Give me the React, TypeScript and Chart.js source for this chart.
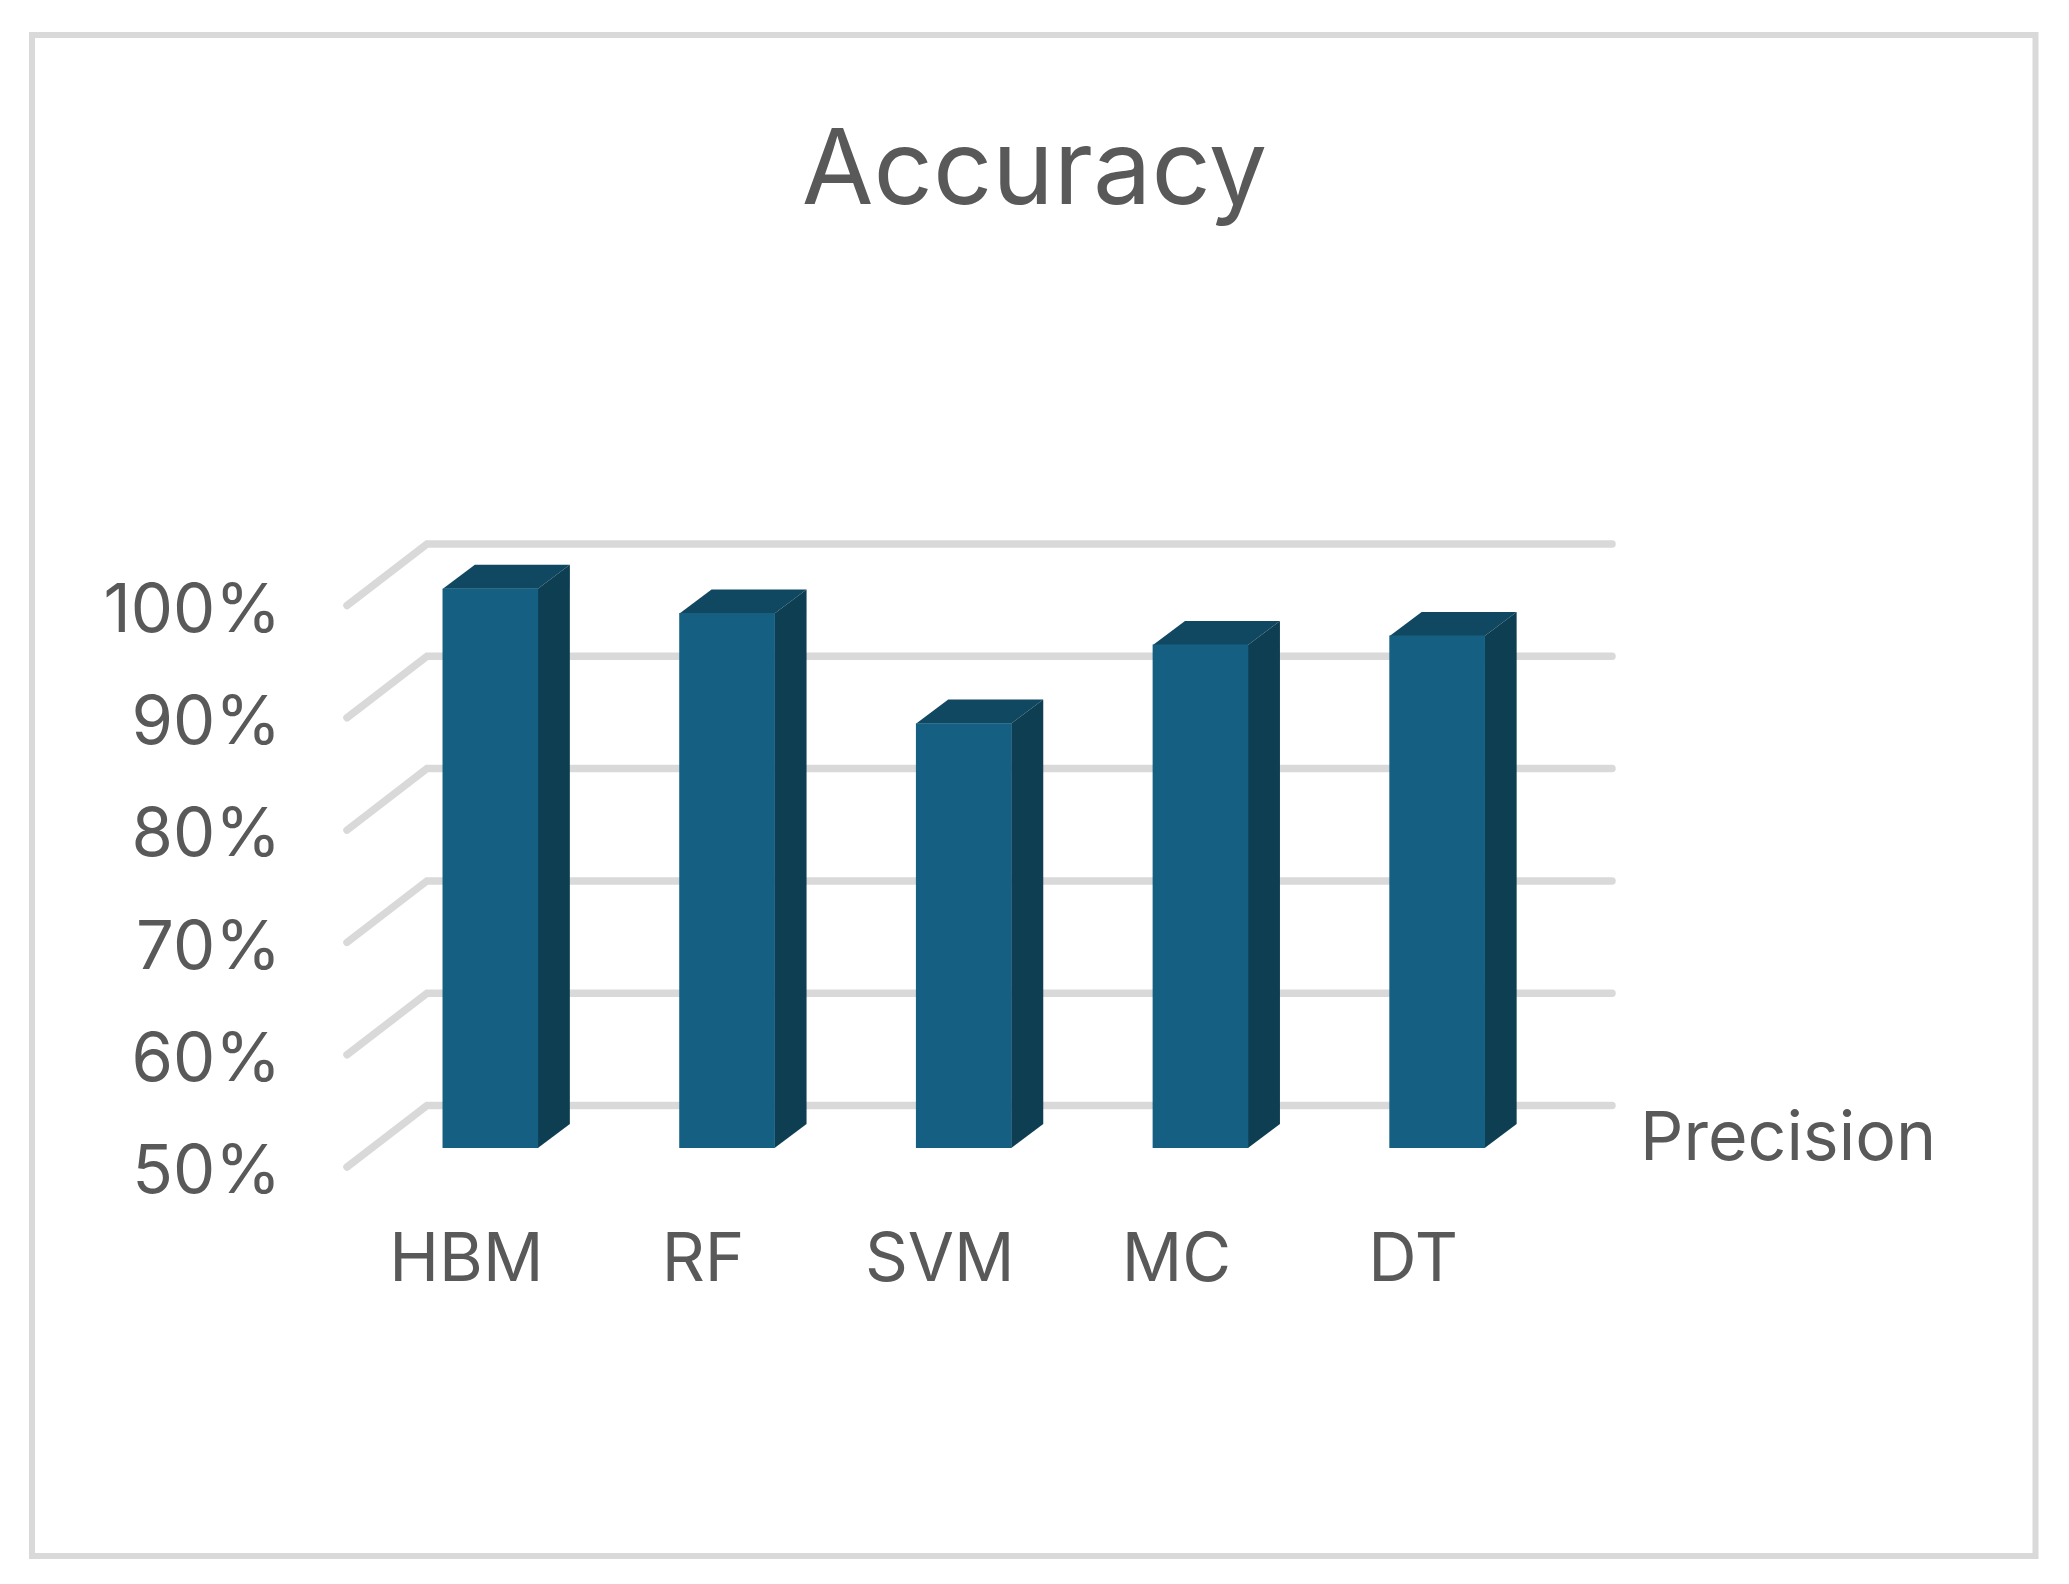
import React, { useEffect, useRef } from "react";
import { Chart, registerables } from "chart.js";

Chart.register(...registerables);

const categories = ["HBM", "RF", "SVM", "MC", "DT"];
const precision = [99.8, 97.6, 87.8, 94.8, 95.6];
const seriesName = "Precision";
const chartTitle = "Accuracy";

const FONT = "Inter, 'Noto Sans', sans-serif";
const TEXT = "#595959";
const GRID = "#d9d9d9";
const FRONT = "#156082";
const TOP = "#104862";
const SIDE = "#0d3e52";

const DEPTH_X = 32;
const DEPTH_Y = 24;

const decor = {
  id: "decor3d",
  beforeDraw(chart: any) {
    const { ctx } = chart;
    ctx.save();
    ctx.fillStyle = "#ffffff";
    ctx.fillRect(0, 0, chart.width, chart.height);
    ctx.strokeStyle = GRID;
    ctx.lineWidth = 6;
    ctx.strokeRect(32, 35, 2003.5, 1521);
    ctx.restore();
  },
  beforeDatasetsDraw(chart: any) {
    const { ctx } = chart;
    const y = chart.scales.y;
    ctx.save();
    ctx.strokeStyle = GRID;
    ctx.lineWidth = 7.5;
    ctx.lineCap = "round";
    ctx.lineJoin = "miter";
    y.ticks.forEach((t: any) => {
      const p = y.getPixelForValue(t.value);
      ctx.beginPath();
      ctx.moveTo(347, p + 19);
      ctx.lineTo(427, p - 42.5);
      ctx.lineTo(1612, p - 42.5);
      ctx.stroke();
    });
    const meta = chart.getDatasetMeta(0);
    meta.data.forEach((bar: any) => {
      const w = bar.width / 2;
      const l = bar.x - w;
      const r = bar.x + w;
      const t = bar.y;
      const b = bar.base;
      ctx.fillStyle = TOP;
      ctx.beginPath();
      ctx.moveTo(l, t);
      ctx.lineTo(l + DEPTH_X, t - DEPTH_Y);
      ctx.lineTo(r + DEPTH_X, t - DEPTH_Y);
      ctx.lineTo(r, t);
      ctx.closePath();
      ctx.fill();
      ctx.fillStyle = SIDE;
      ctx.beginPath();
      ctx.moveTo(r, t);
      ctx.lineTo(r + DEPTH_X, t - DEPTH_Y);
      ctx.lineTo(r + DEPTH_X, b - DEPTH_Y);
      ctx.lineTo(r, b);
      ctx.closePath();
      ctx.fill();
    });
    ctx.restore();
  },
  afterDraw(chart: any) {
    const { ctx } = chart;
    ctx.save();
    ctx.fillStyle = TEXT;
    ctx.font = `68px ${FONT}`;
    ctx.textAlign = "left";
    ctx.textBaseline = "alphabetic";
    ctx.fillText(chart.data.datasets[0].label, 1640, 1160);
    ctx.restore();
  },
};

export default function App() {
  const ref = useRef<HTMLCanvasElement>(null);
  useEffect(() => {
    const chart = new Chart(ref.current as HTMLCanvasElement, {
      type: "bar",
      data: {
        labels: categories,
        datasets: [
          {
            label: seriesName,
            data: precision,
            backgroundColor: FRONT,
            barThickness: 95,
            base: 50,
          } as any,
        ],
      },
      plugins: [decor],
      options: {
        responsive: false,
        animation: false,
        devicePixelRatio: 1,
        layout: {
          autoPadding: false,
          padding: 0,
        },
        plugins: {
          legend: { display: false },
          tooltip: { enabled: false },
          title: {
            display: true,
            text: chartTitle,
            color: TEXT,
            font: { family: FONT, size: 104, weight: "normal", lineHeight: 1.2 },
            padding: { top: 110, bottom: 351.7 },
          },
        },
        scales: {
          x: {
            type: "category",
            grid: { display: false },
            border: { display: false },
            afterFit: (s: any) => {
              s.height = 436;
            },
            ticks: {
              color: TEXT,
              font: { family: FONT, size: 67 },
              padding: 65,
              labelOffset: -24,
              maxRotation: 0,
              autoSkip: false,
            },
          },
          y: {
            type: "linear",
            min: 50,
            max: 100,
            grid: { display: false },
            border: { display: false },
            afterFit: (s: any) => {
              s.width = 372;
            },
            ticks: {
              stepSize: 10,
              color: TEXT,
              font: { family: FONT, size: 67 },
              padding: 83,
              labelOffset: 25,
              callback: (v: any) => `${v}%`,
            },
          },
          rightSpace: {
            type: "linear",
            position: "right",
            grid: { display: false },
            border: { display: false },
            ticks: { display: false },
            afterFit: (s: any) => {
              s.width = 513.5;
            },
          },
        },
      },
    } as any);
    return () => chart.destroy();
  }, []);
  return (
    <div style={{ position: "fixed", left: 0, top: 0, width: 2069, height: 1584, background: "#fff" }}>
      <canvas ref={ref} width={2069} height={1584} style={{ display: "block" }} />
    </div>
  );
}
